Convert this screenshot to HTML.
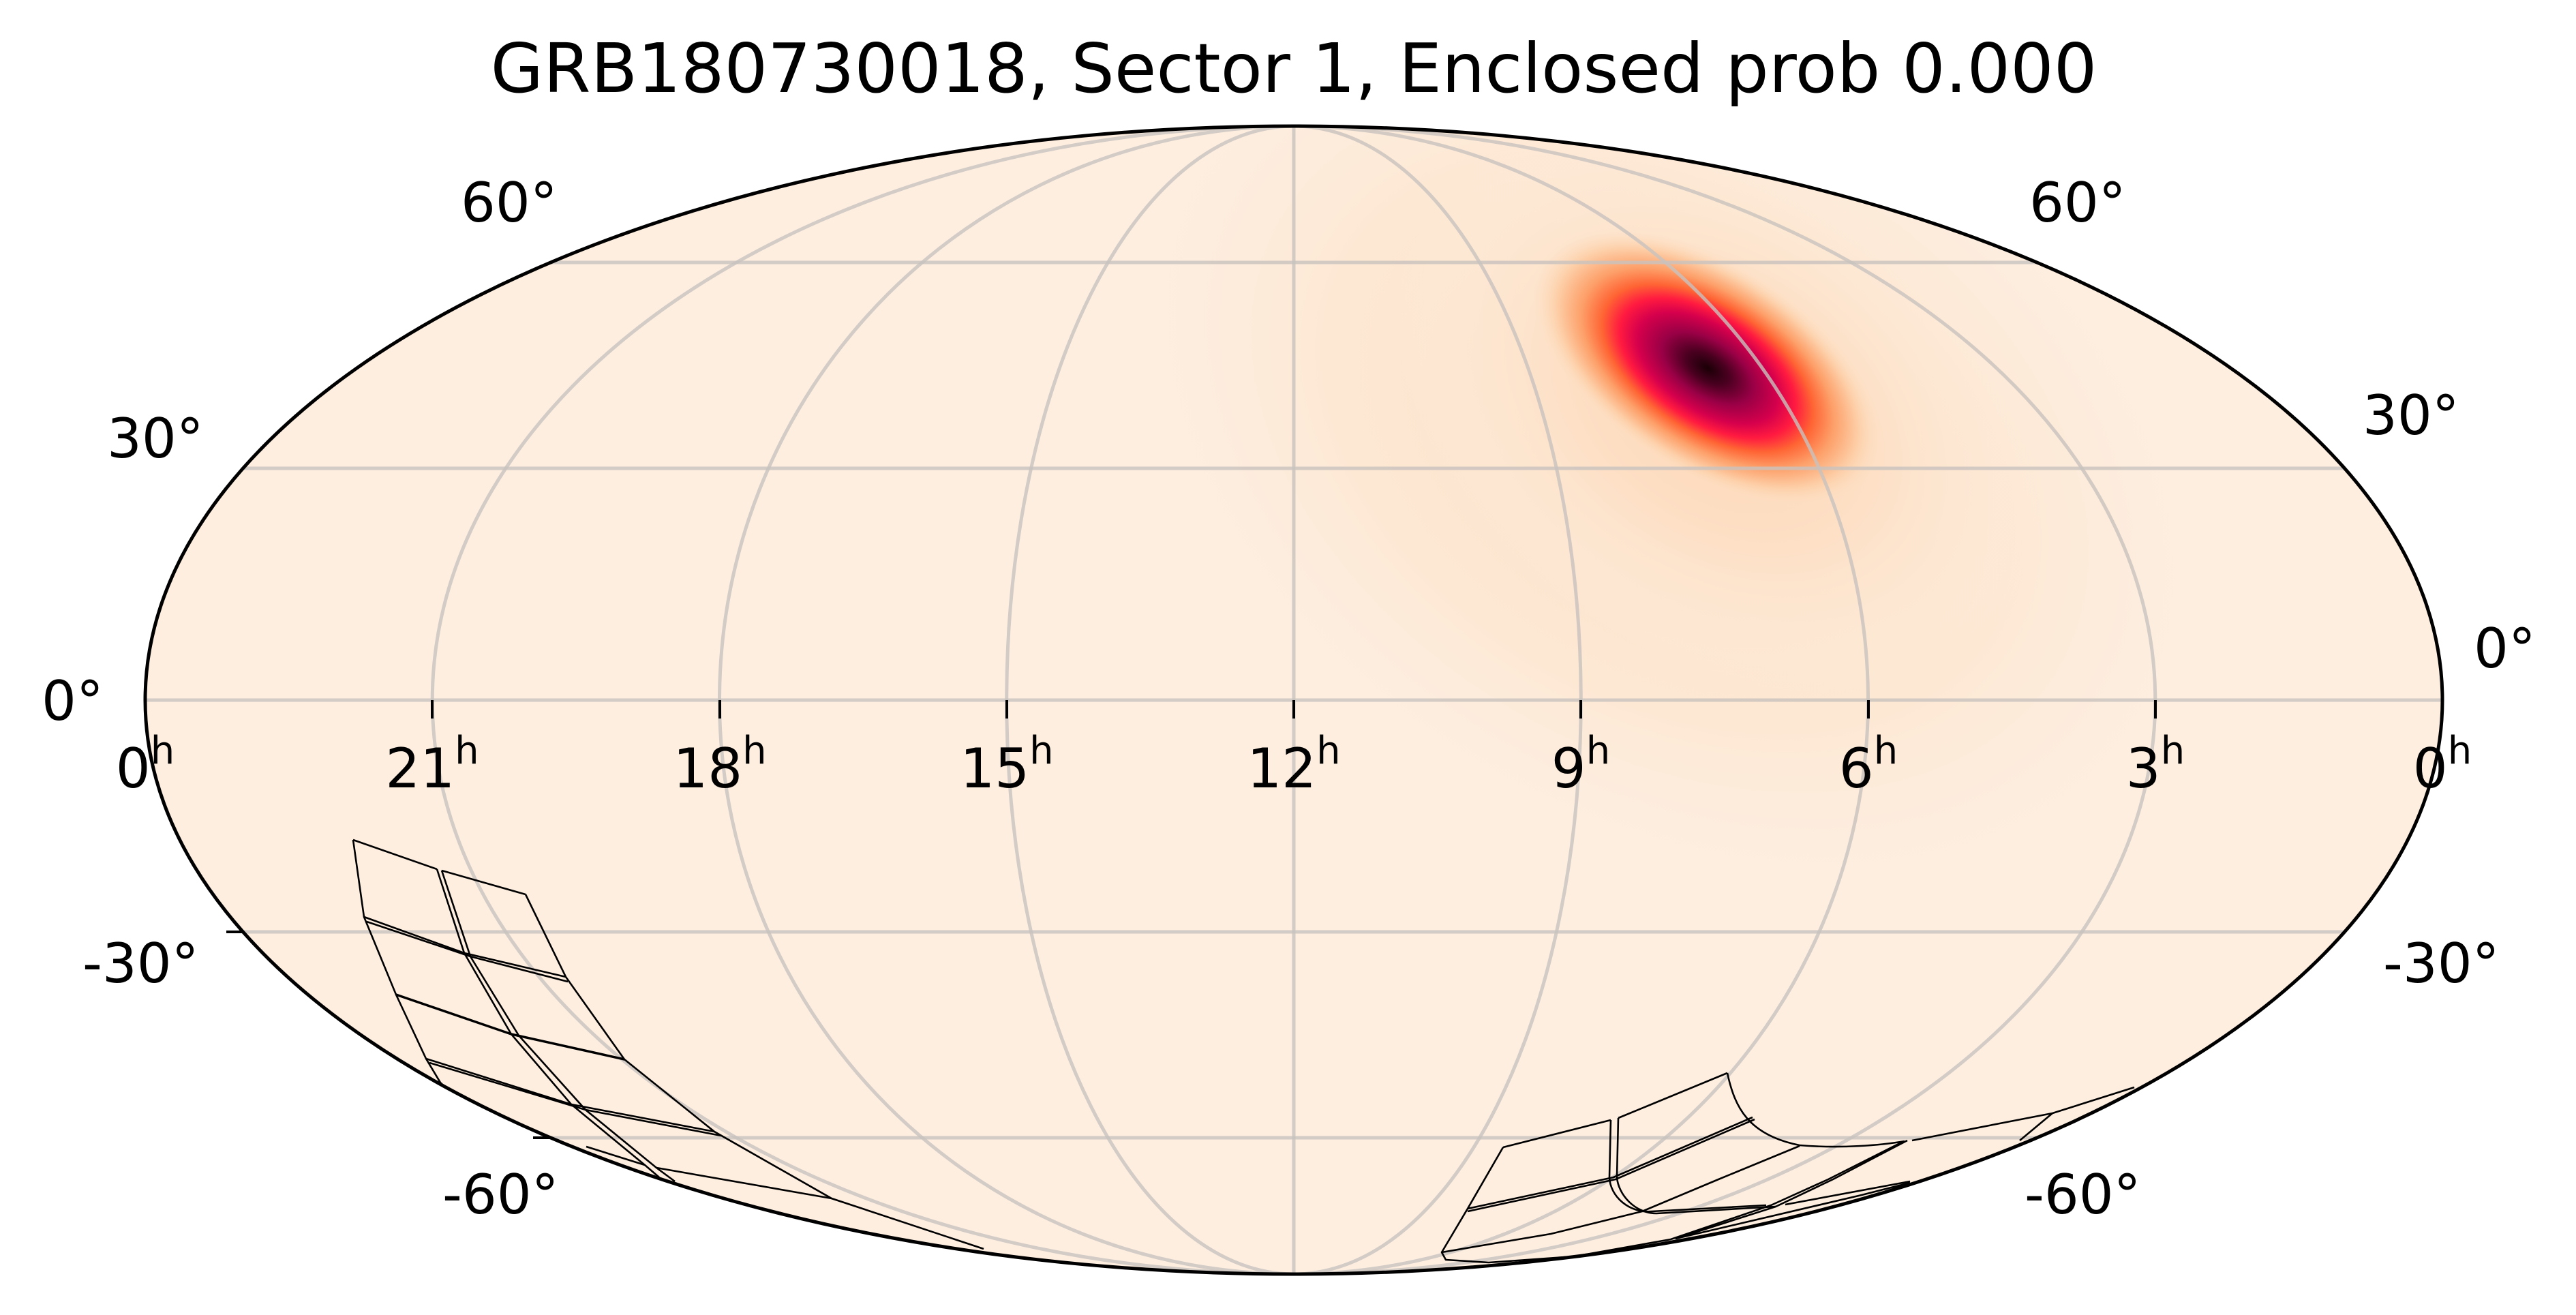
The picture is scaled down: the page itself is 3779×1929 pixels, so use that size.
<!DOCTYPE html>
<html><head><meta charset="utf-8"><style>
html,body{margin:0;padding:0;background:#fff;}
svg{display:block;}
text{font-family:"DejaVu Sans","Liberation Sans",sans-serif;fill:#000;}
</style></head><body>
<svg width="3779" height="1929" viewBox="0 0 3779 1929" xmlns="http://www.w3.org/2000/svg">
<defs>
<clipPath id="clip"><ellipse cx="1898" cy="1027" rx="1685" ry="842"/></clipPath>
<radialGradient id="core">
<stop offset="0" stop-color="#1a0006"/>
<stop offset="0.12" stop-color="#4a0020"/>
<stop offset="0.26" stop-color="#9a0046"/>
<stop offset="0.4" stop-color="#d6004c"/>
<stop offset="0.5" stop-color="#ff1a40"/>
<stop offset="0.6" stop-color="#ff6434"/>
<stop offset="0.72" stop-color="#fda06a"/>
<stop offset="0.86" stop-color="#fdcfa8"/>
<stop offset="1" stop-color="#fde2c8" stop-opacity="0"/>
</radialGradient>
<radialGradient id="halo">
<stop offset="0" stop-color="#fdd6b6"/>
<stop offset="0.5" stop-color="#fde0c6"/>
<stop offset="1" stop-color="#fdeee0" stop-opacity="0"/>
</radialGradient>
<radialGradient id="halo2">
<stop offset="0" stop-color="#fde2c8"/>
<stop offset="0.6" stop-color="#fde8d4"/>
<stop offset="1" stop-color="#fdeee0" stop-opacity="0"/>
</radialGradient>
</defs>
<rect width="3779" height="1929" fill="#fff"/>
<text x="1898" y="135" font-size="100" text-anchor="middle">GRB180730018, Sector 1, Enclosed prob 0.000</text>
<g clip-path="url(#clip)">
<rect x="0" y="0" width="3779" height="1929" fill="#fdeee0"/>
<ellipse cx="2450" cy="650" rx="900" ry="620" fill="url(#halo2)" transform="rotate(30 2450 650)"/>
<ellipse cx="2520" cy="600" rx="520" ry="360" fill="url(#halo)" transform="rotate(35 2520 600)"/>
<ellipse cx="2505" cy="540" rx="290" ry="155" fill="url(#core)" transform="rotate(33 2505 540)"/>
<g fill="none" stroke="#c8c2be" stroke-opacity="0.8" stroke-width="5">
<line x1="1898" y1="180" x2="1898" y2="1880"/>
<ellipse cx="1898" cy="1027" rx="421.25" ry="842"/>
<ellipse cx="1898" cy="1027" rx="842.5" ry="842"/>
<ellipse cx="1898" cy="1027" rx="1263.75" ry="842"/>
<line x1="0" y1="1027" x2="3779" y2="1027"/>
<line x1="0" y1="687" x2="3779" y2="687"/>
<line x1="0" y1="1367" x2="3779" y2="1367"/>
<line x1="0" y1="385" x2="3779" y2="385"/>
<line x1="0" y1="1669" x2="3779" y2="1669"/>
</g>
<g fill="none" stroke="#000" stroke-width="2.6">
<polyline points="518,1232 534,1345 581,1459 625,1553 646,1588 700,1640"/>
<polyline points="641,1275 681,1398 750,1517 838,1620 946,1709 967,1727"/>
<polyline points="648,1277 690,1403 761,1519 859,1628 963,1713 990,1733"/>
<polyline points="771,1312 830,1433 916,1554 1048,1660 1220,1758 1443,1832"/>
<polyline points="518,1232 641,1275"/>
<polyline points="648,1277 771,1312"/>
<polyline points="534,1345 681,1398 830,1433"/>
<polyline points="538,1352 690,1403 833,1440"/>
<polyline points="581,1459 750,1517 916,1554" stroke-width="3.5"/>
<polyline points="625,1553 838,1620 1048,1660"/>
<polyline points="630,1559 859,1628 1058,1666"/>
<polyline points="860,1682 946,1709"/>
<polyline points="963,1713 1220,1758"/>
</g>
<g fill="none" stroke="#000" stroke-width="2.6" stroke-linejoin="round">
<polyline points="2205,1683 2363,1643"/>
<polyline points="2374,1640 2534,1574"/>
<path d="M2534,1574 C2545,1625 2565,1665 2640,1680 C2700,1685 2760,1680 2794,1674"/>
<polyline points="2805,1673 3011,1633 3131,1595"/>
<polyline points="2205,1683 2153,1773 2115,1837 2121,1848 2184,1852 2310,1843 2451,1818"/>
<polyline points="2153,1773 2367,1727 2571,1639"/>
<polyline points="2153,1777 2370,1730 2574,1642"/>
<path d="M2363,1643 L2361,1727 C2362,1755 2390,1780 2423,1777 L2591,1768"/>
<path d="M2374,1640 L2372,1727 C2374,1752 2398,1780 2430,1780 L2605,1770"/>
<polyline points="2640,1681 2521,1730 2409,1777 2275,1810 2115,1837"/>
<polyline points="2798,1673 2689,1730 2605,1770 2458,1817"/>
<polyline points="2791,1675 2682,1730 2598,1768 2451,1818"/>
<polyline points="2619,1767 2802,1733"/>
<polyline points="2458,1817 2731,1753 2802,1735"/>
<polyline points="3011,1633 2963,1673"/>
</g>
</g>
<ellipse cx="1898" cy="1027" rx="1685" ry="842" fill="none" stroke="#000" stroke-width="5"/>
<g stroke="#000" stroke-width="4">
<line x1="634" y1="1027" x2="634" y2="1054"/>
<line x1="1056" y1="1027" x2="1056" y2="1054"/>
<line x1="1477" y1="1027" x2="1477" y2="1054"/>
<line x1="1898" y1="1027" x2="1898" y2="1054"/>
<line x1="2319" y1="1027" x2="2319" y2="1054"/>
<line x1="2741" y1="1027" x2="2741" y2="1054"/>
<line x1="3162" y1="1027" x2="3162" y2="1054"/>
<line x1="332" y1="1367" x2="358" y2="1367"/>
<line x1="782" y1="1669" x2="808" y2="1669"/>
</g>
<g font-size="80">
<text x="676" y="325">60°</text>
<text x="2977" y="325">60°</text>
<text x="157" y="671">30°</text>
<text x="3466" y="637">30°</text>
<text x="61" y="1056">0°</text>
<text x="3629" y="979">0°</text>
<text x="121" y="1441">-30°</text>
<text x="3496" y="1441">-30°</text>
<text x="649" y="1780">-60°</text>
<text x="2970" y="1780">-60°</text>
</g>
<g font-size="80" text-anchor="middle">
<text x="213" y="1155">0<tspan font-size="56" dy="-35">h</tspan></text>
<text x="634" y="1155">21<tspan font-size="56" dy="-35">h</tspan></text>
<text x="1056" y="1155">18<tspan font-size="56" dy="-35">h</tspan></text>
<text x="1477" y="1155">15<tspan font-size="56" dy="-35">h</tspan></text>
<text x="1898" y="1155">12<tspan font-size="56" dy="-35">h</tspan></text>
<text x="2319" y="1155">9<tspan font-size="56" dy="-35">h</tspan></text>
<text x="2741" y="1155">6<tspan font-size="56" dy="-35">h</tspan></text>
<text x="3162" y="1155">3<tspan font-size="56" dy="-35">h</tspan></text>
<text x="3583" y="1155">0<tspan font-size="56" dy="-35">h</tspan></text>
</g>
</svg>
</body></html>
